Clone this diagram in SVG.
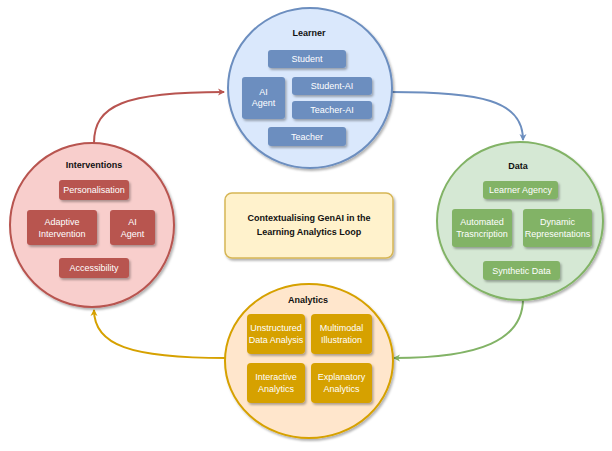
<svg xmlns="http://www.w3.org/2000/svg" width="612" height="451" viewBox="0 0 612 451">
<defs>
<filter id="sh" x="-20%" y="-20%" width="140%" height="140%">
<feDropShadow dx="1.5" dy="2" stdDeviation="1.2" flood-color="#000" flood-opacity="0.3"/>
</filter>
<marker id="mr" markerWidth="8" markerHeight="8" refX="6" refY="4" orient="auto" markerUnits="userSpaceOnUse"><path d="M0,0.5 L7,4 L0,7.5 L2,4 Z" fill="#b85450"/></marker>
<marker id="mb" markerWidth="8" markerHeight="8" refX="6" refY="4" orient="auto" markerUnits="userSpaceOnUse"><path d="M0,0.5 L7,4 L0,7.5 L2,4 Z" fill="#6c8ebf"/></marker>
<marker id="mg" markerWidth="8" markerHeight="8" refX="6" refY="4" orient="auto" markerUnits="userSpaceOnUse"><path d="M0,0.5 L7,4 L0,7.5 L2,4 Z" fill="#82b366"/></marker>
<marker id="my" markerWidth="8" markerHeight="8" refX="6" refY="4" orient="auto" markerUnits="userSpaceOnUse"><path d="M0,0.5 L7,4 L0,7.5 L2,4 Z" fill="#d6a100"/></marker>
</defs>
<style>
text{font-family:"Liberation Sans",Arial,sans-serif;font-size:9px;text-anchor:middle;}
.t{font-weight:bold;fill:#111;}
.w{fill:#fff;}
.conn{fill:none;stroke-width:2;}
</style>
<rect width="612" height="451" fill="#fff"/>
<g id="connectors">
<path class="conn" stroke="#b85450" d="M94 143 C94 105 125 92 224 92" marker-end="url(#mr)"/>
<path class="conn" stroke="#6c8ebf" d="M391 92 C480 92 523 100 523 140" marker-end="url(#mb)"/>
<path class="conn" stroke="#82b366" d="M523 299 C523 340 480 358 394 358" marker-end="url(#mg)"/>
<path class="conn" stroke="#d6a100" d="M226 358 C130 358 94 345 94 310" marker-end="url(#my)"/>
</g>
<g id="learner">
<ellipse cx="310" cy="88" rx="82" ry="80" fill="#dae8fc" stroke="#6c8ebf" stroke-width="2" filter="url(#sh)"/>
<text class="t" x="309" y="36">Learner</text>
<g fill="#6c8ebf" filter="url(#sh)">
<rect x="268" y="50" width="78" height="18" rx="3"/>
<rect x="242" y="77" width="43" height="42" rx="3"/>
<rect x="292" y="77" width="80" height="18" rx="3"/>
<rect x="292" y="101" width="80" height="18" rx="3"/>
<rect x="268" y="127" width="78" height="19" rx="3"/>
</g>
<text class="w" x="307" y="62">Student</text>
<text class="w" x="263.5" y="95">AI</text>
<text class="w" x="263.5" y="106">Agent</text>
<text class="w" x="332" y="89">Student-AI</text>
<text class="w" x="332" y="113">Teacher-AI</text>
<text class="w" x="307" y="139.5">Teacher</text>
</g>
<g id="data">
<ellipse cx="520" cy="221" rx="83" ry="79" fill="#d5e8d4" stroke="#82b366" stroke-width="2" filter="url(#sh)"/>
<text class="t" x="518" y="169">Data</text>
<g fill="#82b366" filter="url(#sh)">
<rect x="483" y="181" width="75" height="18" rx="3"/>
<rect x="452" y="209" width="60" height="38" rx="3"/>
<rect x="523" y="209" width="69" height="38" rx="3"/>
<rect x="483" y="261" width="77" height="19" rx="3"/>
</g>
<text class="w" x="520.5" y="193">Learner Agency</text>
<text class="w" x="482" y="225">Automated</text>
<text class="w" x="482" y="237">Trasncription</text>
<text class="w" x="557.5" y="225">Dynamic</text>
<text class="w" x="557.5" y="237">Representations</text>
<text class="w" x="521.5" y="273.5">Synthetic Data</text>
</g>
<g id="interventions">
<ellipse cx="92" cy="225" rx="82" ry="82" fill="#f8cecc" stroke="#b85450" stroke-width="2" filter="url(#sh)"/>
<text class="t" x="94" y="168">Interventions</text>
<g fill="#b85450" filter="url(#sh)">
<rect x="59" y="180" width="70" height="20" rx="3"/>
<rect x="27" y="210" width="70" height="35" rx="3"/>
<rect x="110" y="210" width="45" height="35" rx="3"/>
<rect x="59" y="258" width="70" height="20" rx="3"/>
</g>
<text class="w" x="94" y="193">Personalisation</text>
<text class="w" x="62" y="225">Adaptive</text>
<text class="w" x="62" y="237">Intervention</text>
<text class="w" x="132.5" y="225">AI</text>
<text class="w" x="132.5" y="237">Agent</text>
<text class="w" x="94" y="271">Accessibility</text>
</g>
<g id="analytics">
<ellipse cx="309" cy="361" rx="84" ry="77" fill="#ffe6cc" stroke="#d6a100" stroke-width="2" filter="url(#sh)"/>
<text class="t" x="308" y="303">Analytics</text>
<g fill="#d6a100" filter="url(#sh)">
<rect x="247" y="314" width="58" height="40" rx="4"/>
<rect x="311" y="314" width="61" height="40" rx="4"/>
<rect x="247" y="363" width="58" height="40" rx="4"/>
<rect x="311" y="363" width="61" height="40" rx="4"/>
</g>
<text class="w" x="276" y="331">Unstructured</text>
<text class="w" x="276" y="343">Data Analysis</text>
<text class="w" x="341.5" y="331">Multimodal</text>
<text class="w" x="341.5" y="343">Illustration</text>
<text class="w" x="276" y="380">Interactive</text>
<text class="w" x="276" y="392">Analytics</text>
<text class="w" x="341.5" y="380">Explanatory</text>
<text class="w" x="341.5" y="392">Analytics</text>
</g>
<g id="title">
<rect x="225" y="193" width="168" height="65" rx="7" fill="#fff2cc" stroke="#d6b656" stroke-width="1.5" filter="url(#sh)"/>
<text class="t" x="309" y="221">Contextualising GenAI in the</text>
<text class="t" x="309" y="235">Learning Analytics Loop</text>
</g>
</svg>
